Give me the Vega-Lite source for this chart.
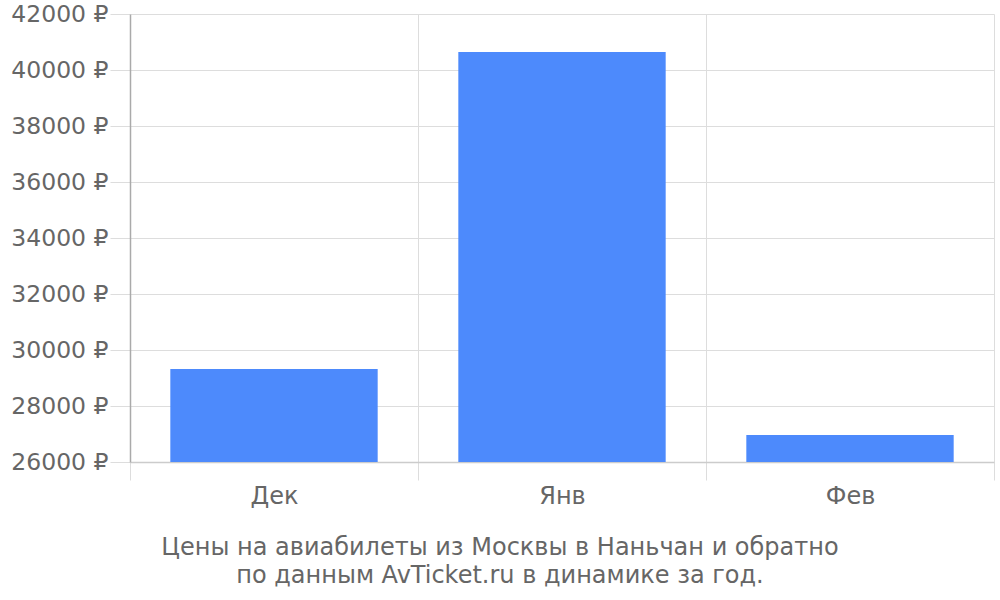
{
  "$schema": "https://vega.github.io/schema/vega-lite/v6.json",
  "width": 864,
  "height": 448,
  "autosize": "none",
  "padding": {"left": 130, "top": 14, "right": 6, "bottom": 138},
  "background": "white",
  "config": {
    "font": "DejaVu Sans",
    "view": {"stroke": null}
  },
  "title": {
    "text": ["Цены на авиабилеты из Москвы в Наньчан и обратно", "по данным AvTicket.ru в динамике за год."],
    "orient": "bottom",
    "anchor": "middle",
    "font": "DejaVu Sans",
    "fontSize": 24,
    "fontWeight": "normal",
    "color": "#666666",
    "offset": 28,
    "dx": -62,
    "lineHeight": 28
  },
  "data": {
    "values": [
      {"month": "Дек", "price": 29320},
      {"month": "Янв", "price": 40640},
      {"month": "Фев", "price": 26960}
    ]
  },
  "mark": {"type": "bar", "color": "#4d8afc", "width": {"band": 0.72}},
  "encoding": {
    "x": {
      "field": "month",
      "type": "nominal",
      "sort": null,
      "title": null,
      "scale": {"paddingInner": 0, "paddingOuter": 0},
      "axis": {
        "labelAngle": 0,
        "labelFont": "DejaVu Sans",
        "labelFontSize": 24,
        "labelColor": "#666666",
        "labelPadding": 4,
        "tickBand": "extent",
        "tickSize": 18,
        "tickColor": "#dddddd",
        "grid": true,
        "gridColor": "#dddddd",
        "domainColor": "#cccccc",
        "domainWidth": 1.5
      }
    },
    "y": {
      "field": "price",
      "type": "quantitative",
      "title": null,
      "scale": {"domain": [26000, 42000], "zero": false, "nice": false},
      "axis": {
        "values": [26000, 28000, 30000, 32000, 34000, 36000, 38000, 40000, 42000],
        "labelExpr": "datum.value + ' ₽'",
        "labelFont": "DejaVu Sans",
        "labelFontSize": 23.5,
        "labelColor": "#666666",
        "labelPadding": 2,
        "tickSize": 20,
        "tickColor": "#dddddd",
        "gridColor": "#dddddd",
        "domainColor": "#aaaaaa",
        "domainWidth": 1.5
      }
    },
    "y2": {"datum": 26000}
  }
}
